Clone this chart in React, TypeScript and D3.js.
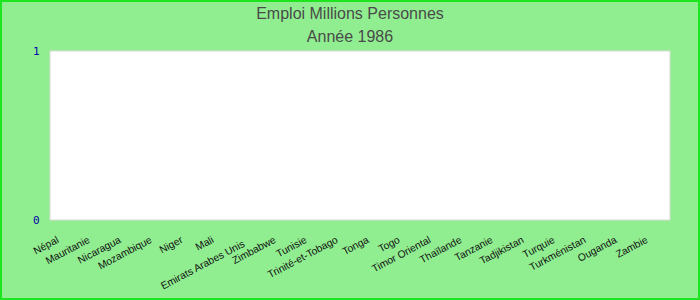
import React from "react";
import * as d3 from "d3";

const title = "Emploi Millions Personnes";
const subtitle = "Année 1986";
const categories = [
  "Népal", "Mauritanie", "Nicaragua", "Mozambique", "Niger", "Mali",
  "Emirats Arabes Unis", "Zimbabwe", "Tunisie", "Trinité-et-Tobago", "Tonga",
  "Togo", "Timor Oriental", "Thaïlande", "Tanzanie", "Tadjikistan", "Turquie",
  "Turkménistan", "Ouganda", "Zambie",
];
const values = [0, 0, 0, 0, 0, 0, 0, 0, 0, 0, 0, 0, 0, 0, 0, 0, 0, 0, 0, 0];
const yTicks = [0, 1];

const W = 700;
const H = 300;
const plot = { left: 50, right: 670, top: 51, bottom: 220 };

export default function App() {
  const x = d3.scaleBand<string>().domain(categories).range([plot.left, plot.right]);
  const y = d3.scaleLinear().domain([0, 1]).range([plot.bottom, plot.top]);
  const font = "'Liberation Sans', Arial, sans-serif";
  return (
    <svg
      width={W}
      height={H}
      style={{ position: "absolute", left: 0, top: 0, display: "block" }}
    >
      <rect x={1} y={1} width={W - 2} height={H - 2} fill="#90EE90" stroke="#1ee61e" strokeWidth={2} />
      <text x={W / 2} y={18.5} textAnchor="middle" fontFamily={font} fontSize={16} fill="#4a4a4a">
        {title}
      </text>
      <text x={W / 2} y={42} textAnchor="middle" fontFamily={font} fontSize={16} fill="#4a4a4a">
        {subtitle}
      </text>
      <rect
        x={plot.left}
        y={plot.top}
        width={plot.right - plot.left}
        height={plot.bottom - plot.top}
        fill="#ffffff"
        stroke="#d8d8d8"
        strokeWidth={1}
      />
      {values.map((v, i) => (
        <rect
          key={categories[i]}
          x={(x(categories[i]) ?? 0) + x.bandwidth() * 0.15}
          y={y(v)}
          width={x.bandwidth() * 0.7}
          height={Math.max(0, plot.bottom - y(v))}
          fill="#3366cc"
        />
      ))}
      {yTicks.map((t) => (
        <text
          key={t}
          x={39.5}
          y={y(t)}
          dy="0.35em"
          textAnchor="end"
          fontFamily="'DejaVu Sans Mono', monospace"
          fontSize={11}
          fill="#0000a8"
        >
          {t}
        </text>
      ))}
      {categories.map((c) => {
        const cx = (x(c) ?? 0) + x.bandwidth() / 2;
        const extra = c.length > 18 ? 4 : 0;
        return (
          <text
            key={c}
            transform={`translate(${cx - 6},${242 + extra}) rotate(-28)`}
            textAnchor="end"
            fontFamily={font}
            fontSize={10.3}
            fill="#111"
          >
            {c}
          </text>
        );
      })}
    </svg>
  );
}
